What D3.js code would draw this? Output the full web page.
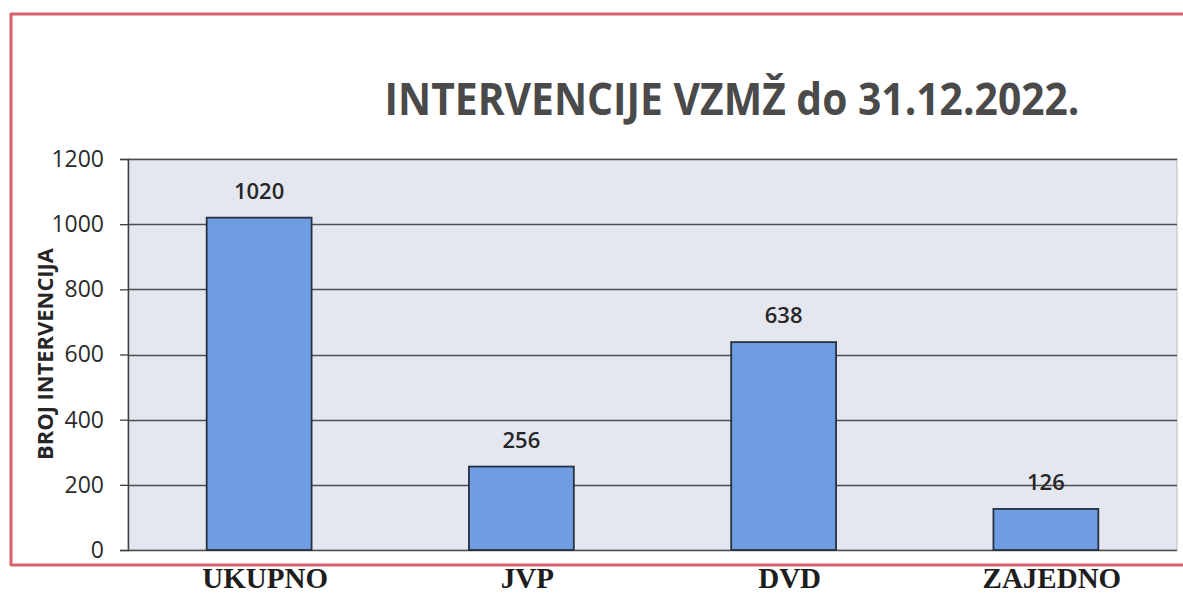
<!DOCTYPE html>
<html>
<head>
<meta charset="utf-8">
<script src="https://cdn.jsdelivr.net/npm/d3@7"></script>
<style>
  body { margin: 0; background: #fff; }
  svg { display: block; }
</style>
</head>
<body>
<div id="chart"></div>
<script>
// data
var categories = ["UKUPNO", "JVP", "DVD", "ZAJEDNO"];
var values = [1020, 256, 638, 126];
var yTicks = [0, 200, 400, 600, 800, 1000, 1200];
var titleText = "INTERVENCIJE VZMŽ do 31.12.2022.";
var yLabel = "BROJ INTERVENCIJA";

var svgWidth = 1183;
var svgHeight = 595;

// plot area
var plot = { left: 128, right: 1177, top: 159, bottom: 550 };

var svg = d3.select("#chart")
    .append("svg")
    .attr("width", svgWidth)
    .attr("height", svgHeight);

var x = d3.scaleBand()
    .domain(categories)
    .range([plot.left, plot.right])
    .paddingInner(0.6)
    .paddingOuter(0.3);

var y = d3.scaleLinear()
    .domain([0, 1200])
    .range([plot.bottom, plot.top]);

// outer pink frame
var frameColor = "#d9606f";
svg.append("line")
    .attr("x1", 11).attr("x2", svgWidth)
    .attr("y1", 14).attr("y2", 14)
    .attr("stroke", frameColor).attr("stroke-width", 3);
svg.append("line")
    .attr("x1", 11).attr("x2", svgWidth)
    .attr("y1", 565).attr("y2", 565)
    .attr("stroke", frameColor).attr("stroke-width", 3);
svg.append("line")
    .attr("x1", 11).attr("x2", 11)
    .attr("y1", 13).attr("y2", 566)
    .attr("stroke", frameColor).attr("stroke-width", 3);

// plot background
svg.append("rect")
    .attr("x", plot.left)
    .attr("y", plot.top)
    .attr("width", plot.right - plot.left)
    .attr("height", plot.bottom - plot.top)
    .attr("fill", "#e4e7f0")
    .attr("stroke", "#b9bcc4")
    .attr("stroke-width", 1);

// gridlines
svg.append("g")
    .selectAll("line")
    .data(yTicks)
    .enter()
    .append("line")
    .attr("x1", plot.left)
    .attr("x2", plot.right)
    .attr("y1", d => Math.round(y(d)) + 0.5)
    .attr("y2", d => Math.round(y(d)) + 0.5)
    .attr("stroke", "#4e4e4e")
    .attr("stroke-width", 1.3);

// y axis
var leftAxis = d3.axisLeft(y)
    .tickValues(yTicks)
    .tickFormat(d3.format("d"))
    .tickSize(8)
    .tickPadding(16);

var yAxis = svg.append("g")
    .attr("transform", `translate(${plot.left}, 0)`)
    .call(leftAxis);

yAxis.select(".domain")
    .attr("stroke", "#404040")
    .attr("stroke-width", 1.5);
yAxis.selectAll(".tick line")
    .attr("stroke", "#404040")
    .attr("stroke-width", 1.3);
yAxis.selectAll(".tick text")
    .attr("font-family", "'Open Sans', sans-serif")
    .attr("font-size", 23)
    .attr("fill", "#2b2b2b");

// bars
svg.append("g")
    .selectAll("rect")
    .data(values)
    .enter()
    .append("rect")
    .attr("x", (d, i) => x(categories[i]))
    .attr("y", d => y(d))
    .attr("width", x.bandwidth())
    .attr("height", d => y(0) - y(d))
    .attr("fill", "#6f9de3")
    .attr("stroke", "#26323f")
    .attr("stroke-width", 1.8);

// value labels
svg.append("g")
    .selectAll("text")
    .data(values)
    .enter()
    .append("text")
    .attr("x", (d, i) => x(categories[i]) + x.bandwidth() / 2)
    .attr("y", d => y(d) - 19)
    .attr("text-anchor", "middle")
    .attr("font-family", "'Open Sans', sans-serif")
    .attr("font-size", 22)
    .attr("font-weight", 600)
    .attr("fill", "#262626")
    .text(d => d);

// category labels below the frame
svg.append("g")
    .selectAll("text")
    .data(categories)
    .enter()
    .append("text")
    .attr("x", d => x(d) + x.bandwidth() / 2 + 6)
    .attr("y", 588)
    .attr("text-anchor", "middle")
    .attr("font-family", "'Liberation Serif', 'Times New Roman', serif")
    .attr("font-size", 29)
    .attr("font-weight", "bold")
    .attr("fill", "#1e1e1e")
    .text(d => d);

// title
svg.append("text")
    .attr("x", 732)
    .attr("y", 115)
    .attr("text-anchor", "middle")
    .attr("font-family", "'Open Sans', sans-serif")
    .attr("font-size", 44)
    .attr("font-weight", "bold")
    .attr("fill", "#4a4a4a")
    .attr("textLength", 695)
    .attr("lengthAdjust", "spacingAndGlyphs")
    .text(titleText);

// y axis title
svg.append("text")
    .attr("transform", "translate(53, 354) rotate(-90)")
    .attr("text-anchor", "middle")
    .attr("font-family", "'Open Sans', sans-serif")
    .attr("font-size", 22)
    .attr("font-weight", "bold")
    .attr("fill", "#262626")
    .attr("textLength", 212)
    .attr("lengthAdjust", "spacingAndGlyphs")
    .text(yLabel);
</script>
</body>
</html>
